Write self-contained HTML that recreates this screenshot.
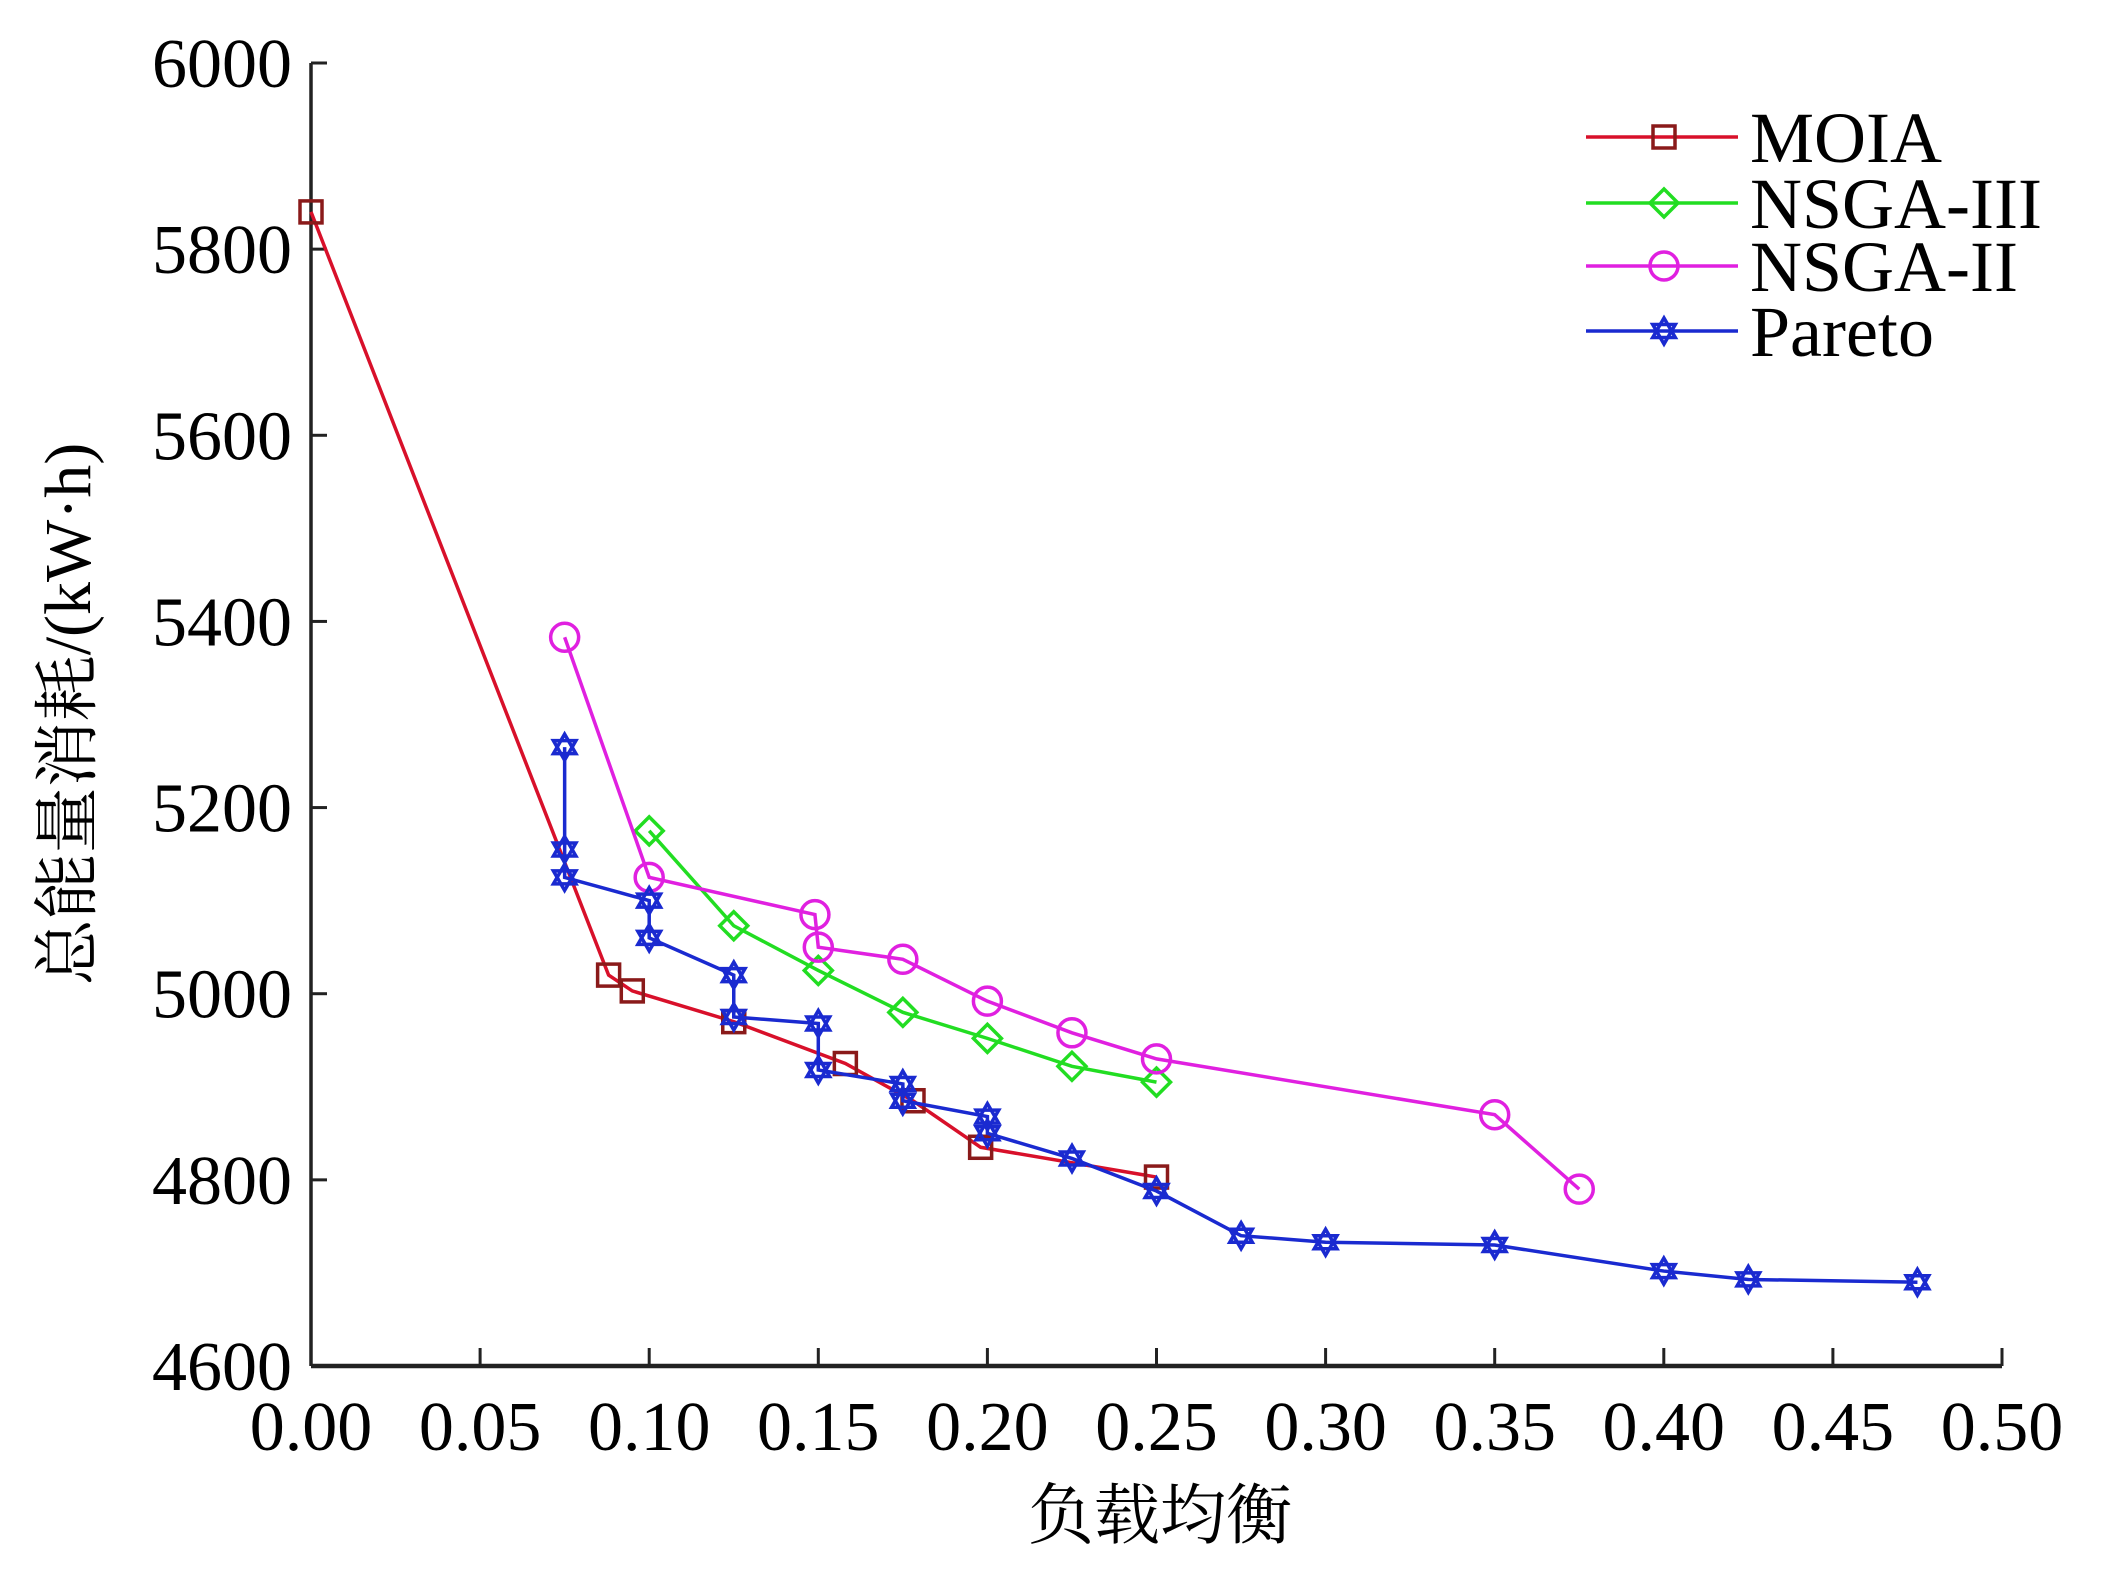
<!DOCTYPE html>
<html><head><meta charset="utf-8"><style>
html,body{margin:0;padding:0;background:#fff;}
svg{display:block;}
text{font-family:"Liberation Serif","Noto Serif CJK SC",serif;fill:#000;}
</style></head><body>
<svg id="chart" width="2110" height="1592" viewBox="0 0 2110 1592"></svg>
<script>
const xTicks=[0,0.05,0.10,0.15,0.20,0.25,0.30,0.35,0.40,0.45,0.50];
const xTickLabels=["0.00","0.05","0.10","0.15","0.20","0.25","0.30","0.35","0.40","0.45","0.50"];
const yTicks=[4600,4800,5000,5200,5400,5600,5800,6000];
const yTickLabels=["4600","4800","5000","5200","5400","5600","5800","6000"];
const seriesNames=["MOIA","NSGA-III","NSGA-II","Pareto"];
const moiaX=[0,0.088,0.095,0.125,0.158,0.178,0.198,0.25];
const moiaY=[5840,5020,5003,4970,4925,4885,4835,4803];
const nsga3X=[0.1,0.125,0.15,0.175,0.2,0.225,0.25];
const nsga3Y=[5175,5073,5025,4980,4952,4922,4905];
const nsga2X=[0.075,0.1,0.149,0.15,0.175,0.2,0.225,0.25,0.35,0.375];
const nsga2Y=[5383,5125,5085,5050,5037,4992,4958,4930,4870,4790];
const paretoX=[0.075,0.075,0.075,0.1,0.1,0.125,0.125,0.15,0.15,0.175,0.175,0.2,0.2,0.225,0.25,0.275,0.3,0.35,0.4,0.425,0.475];
const paretoY=[5265,5155,5125,5100,5060,5020,4975,4968,4918,4903,4885,4868,4850,4823,4788,4740,4733,4730,4702,4693,4690];

const svg=document.getElementById('chart');
const NS='http://www.w3.org/2000/svg';
const X0=311,X1=2002,Y0=1366,Y1=63;
const sx=v=>X0+(v-0)/(0.5-0)*(X1-X0);
const sy=v=>Y0-(v-4600)/(6000-4600)*(Y0-Y1);
function mk(tag,attrs,parent){const e=document.createElementNS(NS,tag);for(const k in attrs)e.setAttribute(k,attrs[k]);(parent||svg).appendChild(e);return e;}

const axes=mk('g',{});


const yAxis=mk('line',{x1:X0,y1:Y1,x2:X0,y2:Y0,stroke:'#222','stroke-width':3.5},axes);


const xAxis=mk('line',{x1:X0,y1:Y0,x2:X1,y2:Y0,stroke:'#222','stroke-width':4.5},axes);


xTicks.forEach((t,i)=>{
  const tk=mk('line',{x1:sx(t),y1:Y0,x2:sx(t),y2:Y0-18,stroke:'#222','stroke-width':3},axes);
  
  
  const tl=mk('text',{x:sx(t),y:1450,'text-anchor':'middle','font-size':70},axes);
  tl.textContent=xTickLabels[i];
  
  
});
yTicks.forEach((t,i)=>{
  const tk=mk('line',{x1:X0,y1:sy(t),x2:X0+16,y2:sy(t),stroke:'#222','stroke-width':3},axes);
  
  
  const tl=mk('text',{x:292,y:sy(t)+24,'text-anchor':'end','font-size':70},axes);
  tl.textContent=yTickLabels[i];
  
  
});
const xt=mk('text',{x:1160,y:1538,'text-anchor':'middle','font-size':66});
xt.textContent='负载均衡';


const yt=mk('text',{x:0,y:0,'text-anchor':'middle','font-size':66,transform:'translate(90,714) rotate(-90)'});
yt.textContent='总能量消耗/(kW·h)';



function marker(type,cx,cy,color,g){
  let e;
  if(type==='square') e=mk('rect',{x:cx-11,y:cy-11,width:22,height:22,fill:'none',stroke:color,'stroke-width':3.5},g);
  else if(type==='diamond') e=mk('polygon',{points:`${cx},${cy-14} ${cx+14},${cy} ${cx},${cy+14} ${cx-14},${cy}`,fill:'none',stroke:color,'stroke-width':3.5},g);
  else if(type==='circle') e=mk('circle',{cx:cx,cy:cy,r:14,fill:'none',stroke:color,'stroke-width':3.5},g);
  else {
    const r=13,pts1=[],pts2=[];
    for(let k=0;k<3;k++){const a=-Math.PI/2+k*2*Math.PI/3;pts1.push((cx+r*Math.cos(a)).toFixed(1)+','+(cy+r*Math.sin(a)).toFixed(1));const b=Math.PI/2+k*2*Math.PI/3;pts2.push((cx+r*Math.cos(b)).toFixed(1)+','+(cy+r*Math.sin(b)).toFixed(1));}
    e=mk('g',{},g);
    mk('polygon',{points:pts1.join(' '),fill:'none',stroke:color,'stroke-width':3.5},e);
    mk('polygon',{points:pts2.join(' '),fill:'none',stroke:color,'stroke-width':3.5},e);
  }
  return e;
}
const series=[
  {name:'moia',xs:moiaX,ys:moiaY,line:'#d8102a',mcol:'#8a1a1a',m:'square'},
  {name:'nsga3',xs:nsga3X,ys:nsga3Y,line:'#22dd22',mcol:'#22dd22',m:'diamond'},
  {name:'nsga2',xs:nsga2X,ys:nsga2Y,line:'#e020e0',mcol:'#e020e0',m:'circle'},
  {name:'pareto',xs:paretoX,ys:paretoY,line:'#1a2ad0',mcol:'#1a2ad0',m:'hex'}
];
series.forEach(s=>{
  const g=mk('g',{});
  
  
  const pl=mk('polyline',{points:s.xs.map((x,i)=>sx(x)+','+sy(s.ys[i])).join(' '),fill:'none',stroke:s.line,'stroke-width':3.5},g);
  
  
  s.xs.forEach((x,i)=>{
    const e=marker(s.m,sx(x),sy(s.ys[i]),s.mcol,g);
    
    
  });
});
const lg=mk('g',{});


const legY=[137,203,266,331];
series.forEach((s,i)=>{
  const eg=mk('g',{},lg);
  
  
  mk('line',{x1:1586,y1:legY[i],x2:1738,y2:legY[i],stroke:s.line,'stroke-width':3.5},eg);
  marker(s.m,1664,legY[i],s.mcol,eg);
  const t=mk('text',{x:1750,y:legY[i]+25,'font-size':72},eg);
  t.textContent=seriesNames[i];
});
</script>
</body></html>
